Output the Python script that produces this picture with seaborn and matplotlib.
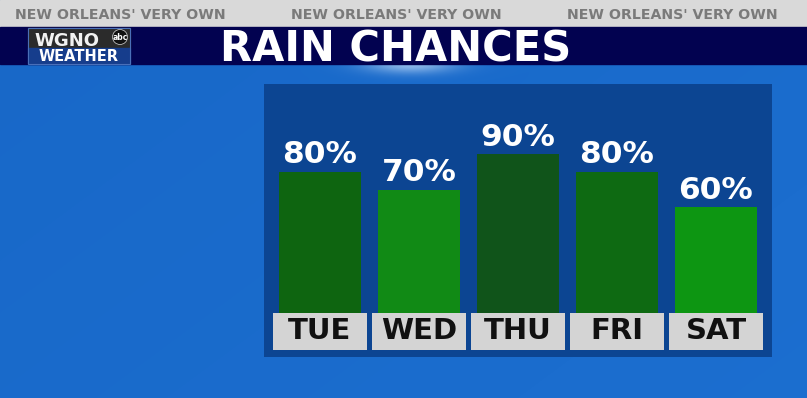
import numpy as np
import pandas as pd
import seaborn as sns
import matplotlib.pyplot as plt
from matplotlib.patches import Rectangle, Circle

# data
days = ["TUE", "WED", "THU", "FRI", "SAT"]
chances = [80, 70, 90, 80, 60]
bar_colors = ["#0e6510", "#118a15", "#10541a", "#0e6a12", "#0d9612"]
title = "RAIN CHANCES"
tagline = "NEW ORLEANS' VERY OWN"

df = pd.DataFrame({"day": days, "chance": chances})

W, H = 807, 398
fig = plt.figure(figsize=(W / 100, H / 100), dpi=100)

# background layer in pixel coords
bg = fig.add_axes([0, 0, 1, 1])
bg.set_xlim(0, W)
bg.set_ylim(H, 0)
bg.axis("off")

# sky gradient + soft glow under the title band
yy, xx = np.mgrid[0:H, 0:W]
base = np.array([0x18, 0x68, 0xc8]) / 255
sky = np.ones((H, W, 3)) * base
shade = 0.03 * (xx / W) + 0.02 * (yy / H)
sky = sky + shade[..., None] * np.array([0.3, 0.5, 0.6])
glow = np.exp(-(((xx - 410) / 45) ** 2 + ((yy - 64) / 9) ** 2))
sky = sky * (1 - glow[..., None] * 0.6) + glow[..., None] * 0.6 * np.array([0.85, 0.92, 1.0])
bg.imshow(np.clip(sky, 0, 1), extent=(0, W, H, 0), aspect="auto", zorder=0)

# top gray band and navy band
bg.add_patch(Rectangle((0, 0), W, 27, color="#d9d9d9", zorder=1))
bg.add_patch(Rectangle((0, 27), W, 37, color="#020250", zorder=1))
for cx in [120, 396, 672]:
    bg.text(cx, 15, tagline, color="#7a7a7a", fontsize=10.2, fontweight="bold",
            ha="center", va="center", zorder=2)
bg.text(396, 62, title, color="white", fontsize=30, fontweight="bold",
        ha="center", va="baseline", zorder=2)

# logo
bg.add_patch(Rectangle((28, 28), 102, 20, color="#2b2b2b", zorder=2))
bg.add_patch(Rectangle((28, 48), 102, 16, color="#163d8c", zorder=2))
bg.add_patch(Rectangle((28, 28), 102, 36, fill=False, edgecolor="#4a6fb8", lw=0.8, zorder=3))
bg.text(34, 45.5, "WGNO", color="#f2f2f2", fontsize=13, fontweight="bold",
        ha="left", va="baseline", zorder=3)
bg.add_patch(Circle((120, 37), 7.5, color="#111111", ec="#bbbbbb", lw=0.6, zorder=3))
bg.text(120, 37.5, "abc", color="white", fontsize=5.5, fontweight="bold",
        ha="center", va="center", zorder=4)
bg.text(79, 61, "WEATHER", color="white", fontsize=10.5, fontweight="bold",
        ha="center", va="baseline", zorder=3)

# chart panel
px0, px1, py0, py1 = 264, 772, 84, 357
ax = fig.add_axes([px0 / W, 1 - py1 / H, (px1 - px0) / W, (py1 - py0) / H])
ax.set_facecolor("#0c4592")

box_h = 21
sns.barplot(data=df, x="day", y="chance", hue="day", palette=bar_colors,
            legend=False, width=0.83, saturation=1, ax=ax, zorder=2)
ax.bar(days, [box_h] * len(days), bottom=-box_h, width=0.95, color="#d4d4d4", zorder=2)

for c in ax.containers[:len(days)]:
    ax.bar_label(c, fmt="%d%%", padding=2, color="white", fontsize=22.5,
                 fontweight="bold")
for i, d in enumerate(days):
    ax.text(i, -box_h / 2, d, color="#111111", fontsize=21, fontweight="bold",
            ha="center", va="center", zorder=3)

ax.set_xlim(-0.566, 4.566)
ax.set_ylim(-25, 130)
ax.set_xticks([])
ax.set_yticks([])
ax.set_xlabel("")
ax.set_ylabel("")
for s in ax.spines.values():
    s.set_visible(False)

fig.savefig("out.png", dpi=100)
